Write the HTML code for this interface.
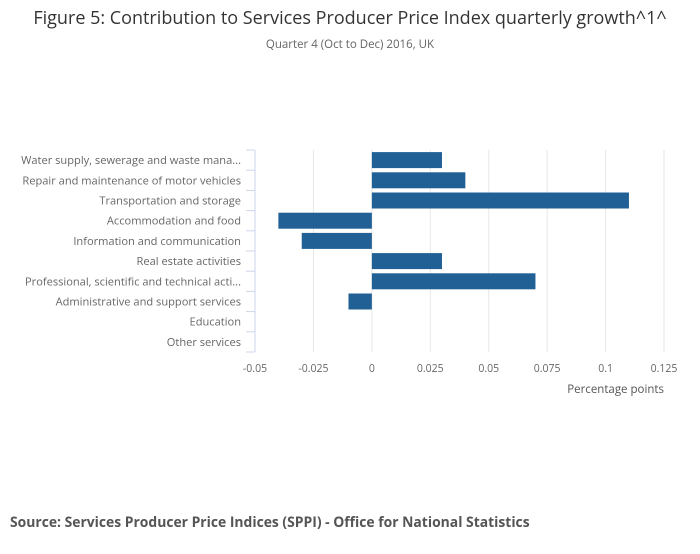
<!DOCTYPE html>
<html><head><meta charset="utf-8"><style>
body{margin:0;background:#fff;font-family:"Liberation Sans","DejaVu Sans",sans-serif;}
svg text{font-family:"Open Sans","Liberation Sans",sans-serif;}
</style></head><body>
<svg id="c" width="700" height="549">
<text x="350" y="24" text-anchor="middle" font-size="18" fill="#333">Figure 5: Contribution to Services Producer Price Index quarterly growth^1^</text>
<text x="350" y="48" text-anchor="middle" font-size="11.5" fill="#666">Quarter 4 (Oct to Dec) 2016, UK</text>
<g id="grid"></g><g id="bars"></g><g id="axes"></g>
<text x="664" y="393" text-anchor="end" font-size="11.5" fill="#555">Percentage points</text>
<text x="10" y="527" font-size="13.9" font-weight="bold" fill="#555">Source: Services Producer Price Indices (SPPI) - Office for National Statistics</text>
</svg>
<script>
const categories=["Water supply, sewerage and waste mana...","Repair and maintenance of motor vehicles","Transportation and storage","Accommodation and food","Information and communication","Real estate activities","Professional, scientific and technical acti...","Administrative and support services","Education","Other services"];
const values=[0.03,0.04,0.11,-0.04,-0.03,0.03,0.07,-0.01,0,0];
const xTicks=[-0.05,-0.025,0,0.025,0.05,0.075,0.1,0.125];
const xTickLabels=["-0.05","-0.025","0","0.025","0.05","0.075","0.1","0.125"];
const NS="http://www.w3.org/2000/svg";
const x0=255,x1=664,xmin=-0.05,xmax=0.125,yTop=150,yBot=352;
const xs=v=>x0+(v-xmin)/(xmax-xmin)*(x1-x0);
const rowH=(yBot-yTop)/categories.length;
function mk(tag,attrs,parent){const e=document.createElementNS(NS,tag);for(const k in attrs)e.setAttribute(k,attrs[k]);parent.appendChild(e);return e;}
const grid=document.getElementById('grid'),bars=document.getElementById('bars'),axes=document.getElementById('axes');
xTicks.forEach((t,i)=>{
  if(i>0){const l=mk('line',{x1:xs(t),x2:xs(t),y1:yTop,y2:yBot,stroke:'#e6e6e6','stroke-width':1},grid);
  
  }
  const tx=mk('text',{x:xs(t),y:372,'text-anchor':'middle','font-size':10.5,fill:'#666'},axes);
  tx.textContent=xTickLabels[i];
  
  
});
const ax=mk('line',{x1:x0,x2:x0,y1:yTop,y2:yBot,stroke:'#ccd6eb','stroke-width':1},axes);


for(let i=0;i<=categories.length;i++){
  const y=yTop+i*rowH;
  const tk=mk('line',{x1:x0-9,x2:x0,y1:y,y2:y,stroke:'#ccd6eb','stroke-width':1},axes);
  
  
}
categories.forEach((c,i)=>{
  const yc=yTop+(i+0.5)*rowH;
  const tx=mk('text',{x:241,y:yc+4,'text-anchor':'end','font-size':11.1,fill:'#666'},axes);
  tx.textContent=c;
  
  
  const v=values[i];
  const a=xs(Math.min(0,v)),b=xs(Math.max(0,v));
  if(b-a>0){
    const r=mk('rect',{x:a,y:yc-8,width:b-a,height:16,fill:'#206095'},bars);
    
    
  }
});
</script>
</body></html>
